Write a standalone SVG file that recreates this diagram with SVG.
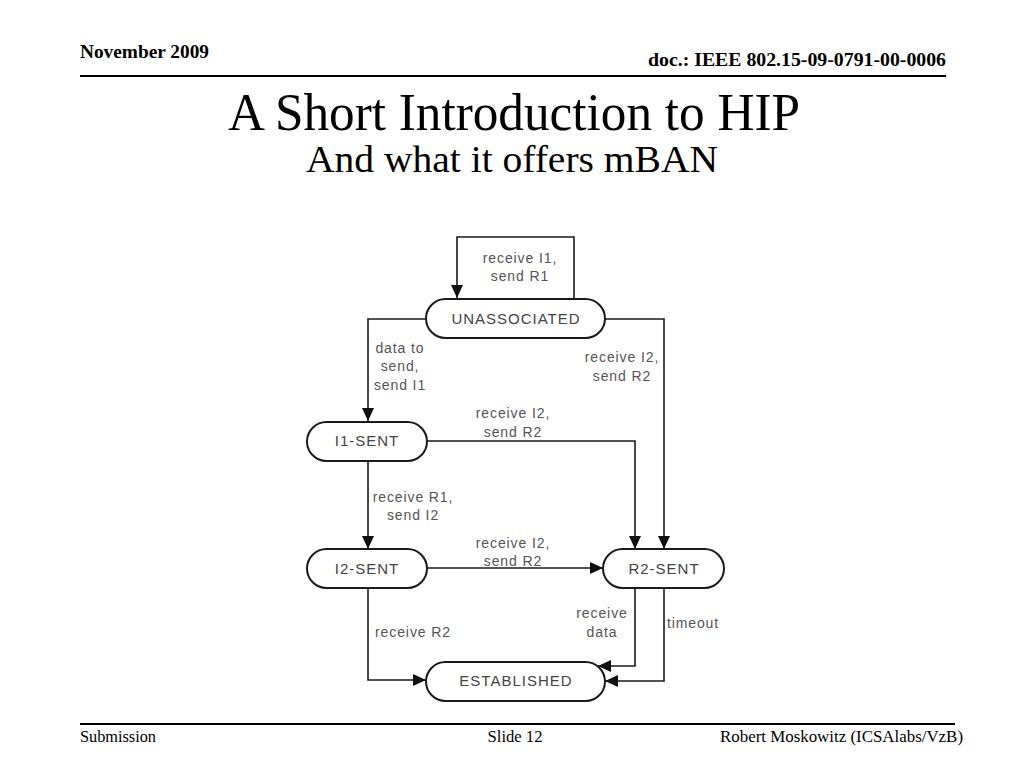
<svg xmlns="http://www.w3.org/2000/svg" width="1024" height="768" viewBox="0 0 1024 768">
<defs>
<marker id="arr" markerUnits="userSpaceOnUse" markerWidth="14" markerHeight="12" refX="13" refY="6" orient="auto">
<path d="M0,0 L13,6 L0,12 Z" fill="#111"/>
</marker>
<style>
.hdr{font-family:"Liberation Serif",serif;fill:#000}
.node rect{fill:#fff;stroke:#1a1a1a;stroke-width:2}
.node text{font-family:"Liberation Sans",Arial,sans-serif;font-size:15px;letter-spacing:1px;fill:#444;text-anchor:middle}
.lbl{font-family:"Liberation Sans",Arial,sans-serif;font-size:14px;letter-spacing:0.9px;fill:#555;text-anchor:middle}
#connectors path{fill:none;stroke:#1a1a1a;stroke-width:1.6}
</style>
</defs>
<rect width="1024" height="768" fill="#fff"/>
<g id="header">
<text class="hdr" x="80" y="58" font-size="18" font-weight="bold" textLength="129" lengthAdjust="spacingAndGlyphs">November 2009</text>
<text class="hdr" x="946" y="66" font-size="19" font-weight="bold" text-anchor="end" textLength="298" lengthAdjust="spacingAndGlyphs">doc.: IEEE 802.15-09-0791-00-0006</text>
<line x1="80" y1="76" x2="946" y2="76" stroke="#000" stroke-width="2"/>
<text class="hdr" x="514" y="130" font-size="52" text-anchor="middle" textLength="572" lengthAdjust="spacingAndGlyphs">A Short Introduction to HIP</text>
<text class="hdr" x="512" y="172" font-size="37" text-anchor="middle" textLength="412" lengthAdjust="spacingAndGlyphs">And what it offers mBAN</text>
</g>
<g id="footer">
<line x1="80" y1="724" x2="955" y2="724" stroke="#000" stroke-width="2"/>
<text class="hdr" x="80" y="742" font-size="16" textLength="76" lengthAdjust="spacingAndGlyphs">Submission</text>
<text class="hdr" x="515" y="742" font-size="16" text-anchor="middle" textLength="55" lengthAdjust="spacingAndGlyphs">Slide 12</text>
<text class="hdr" x="963" y="742" font-size="16" text-anchor="end" textLength="243" lengthAdjust="spacingAndGlyphs">Robert Moskowitz (ICSAlabs/VzB)</text>
</g>
<g id="connectors">
<path d="M574,299 V237 H457 V298" marker-end="url(#arr)"/>
<path d="M426,319 H368 V421" marker-end="url(#arr)"/>
<path d="M605,319 H664 V549" marker-end="url(#arr)"/>
<path d="M427,441 H635 V549" marker-end="url(#arr)"/>
<path d="M368,461 V549" marker-end="url(#arr)"/>
<path d="M427,568 H603" marker-end="url(#arr)"/>
<path d="M368,588 V680 H426" marker-end="url(#arr)"/>
<path d="M635,588 V666 H598" marker-end="url(#arr)"/>
<path d="M664,588 V681 H605" marker-end="url(#arr)"/>
</g>
<g id="labels">
<text class="lbl" x="520" y="263">receive I1,</text>
<text class="lbl" x="520" y="281">send R1</text>
<text class="lbl" x="400" y="353">data to</text>
<text class="lbl" x="400" y="371">send,</text>
<text class="lbl" x="400" y="390">send I1</text>
<text class="lbl" x="622" y="362">receive I2,</text>
<text class="lbl" x="622" y="381">send R2</text>
<text class="lbl" x="513" y="418">receive I2,</text>
<text class="lbl" x="513" y="437">send R2</text>
<text class="lbl" x="413" y="502">receive R1,</text>
<text class="lbl" x="413" y="520">send I2</text>
<text class="lbl" x="513" y="548">receive I2,</text>
<text class="lbl" x="513" y="566">send R2</text>
<text class="lbl" x="602" y="618">receive</text>
<text class="lbl" x="602" y="637">data</text>
<text class="lbl" x="693" y="628">timeout</text>
<text class="lbl" x="413" y="637">receive R2</text>
</g>
<g id="n-unassociated" class="node">
<rect x="426" y="299" width="179" height="39" rx="19.5"/>
<text x="516" y="324">UNASSOCIATED</text>
</g>
<g id="n-i1sent" class="node">
<rect x="307" y="422" width="120" height="39" rx="19.5"/>
<text x="367" y="446">I1-SENT</text>
</g>
<g id="n-i2sent" class="node">
<rect x="307" y="549" width="120" height="39" rx="19.5"/>
<text x="367" y="574">I2-SENT</text>
</g>
<g id="n-r2sent" class="node">
<rect x="603" y="549" width="121" height="39" rx="19.5"/>
<text x="664" y="574">R2-SENT</text>
</g>
<g id="n-established" class="node">
<rect x="426" y="662" width="179" height="39" rx="19.5"/>
<text x="516" y="686">ESTABLISHED</text>
</g>
</svg>
